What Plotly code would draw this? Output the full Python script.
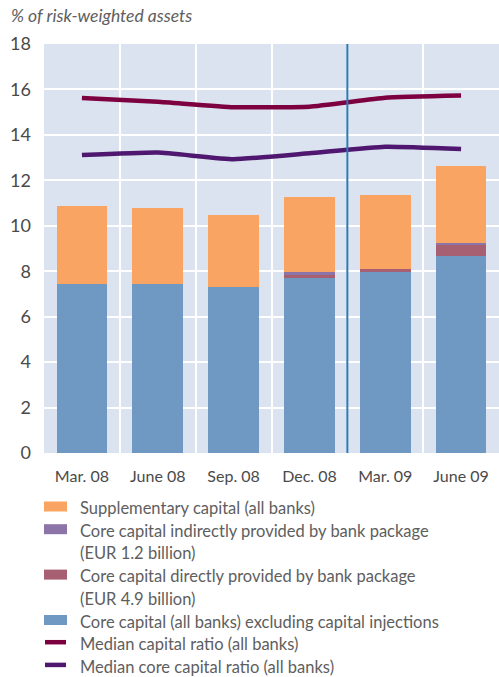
import plotly.graph_objects as go

# quarters on the x axis
quarters = ['Mar. 08', 'June 08', 'Sep. 08', 'Dec. 08', 'Mar. 09', 'June 09']

# stacked bar components, % of risk-weighted assets
core_excl = [7.43, 7.43, 7.30, 7.70, 7.96, 8.66]
core_direct = [0.0, 0.0, 0.0, 0.13, 0.12, 0.49]
core_indirect = [0.0, 0.0, 0.0, 0.13, 0.0, 0.09]
supplementary = [3.44, 3.35, 3.16, 3.31, 3.26, 3.39]

# median ratios
median_capital = [15.62, 15.46, 15.22, 15.24, 15.63, 15.73]
median_core = [13.11, 13.22, 12.93, 13.19, 13.48, 13.38]

y_ticks = [0, 2, 4, 6, 8, 10, 12, 14, 16, 18]

legend_labels = [
    'Supplementary capital (all banks)',
    'Core capital indirectly provided by bank package<br>(EUR 1.2 billion)',
    'Core capital directly provided by bank package<br>(EUR 4.9 billion)',
    'Core capital (all banks) excluding capital injections',
    'Median capital ratio (all banks)',
    'Median core capital ratio (all banks)',
]

C_SUPP = '#F9A462'
C_IND = '#8C74A8'
C_DIR = '#A75F72'
C_CORE = '#6F99C2'
C_CAP = '#7D0040'
C_CORELINE = '#4F1770'
FONT = 'Lato'

W, H = 499, 677
M_L, M_R, M_T, M_B = 44, 0, 44, 224
PLOT_W = W - M_L - M_R
PLOT_H = H - M_T - M_B


def px_x(px):
    return (px - M_L) / PLOT_W


def px_y(py):
    return (H - M_B - py) / PLOT_H


fig = go.Figure()
fig.add_trace(go.Bar(x=quarters, y=core_excl, marker_color=C_CORE, marker_line_width=0, showlegend=False))
fig.add_trace(go.Bar(x=quarters, y=core_direct, marker_color=C_DIR, marker_line_width=0, showlegend=False))
fig.add_trace(go.Bar(x=quarters, y=core_indirect, marker_color=C_IND, marker_line_width=0, showlegend=False))
fig.add_trace(go.Bar(x=quarters, y=supplementary, marker_color=C_SUPP, marker_line_width=0, showlegend=False))
fig.add_trace(go.Scatter(x=quarters, y=median_capital, mode='lines', showlegend=False,
                         line=dict(color=C_CAP, width=4.5, shape='spline', smoothing=0.4)))
fig.add_trace(go.Scatter(x=quarters, y=median_core, mode='lines', showlegend=False,
                         line=dict(color=C_CORELINE, width=4.5, shape='spline', smoothing=0.4)))

# blue separator between 2008 and 2009
fig.add_shape(type='line', xref='x', yref='paper', x0=3.5, x1=3.5, y0=0, y1=1,
              line=dict(color='#2C79B4', width=2))

# hand-drawn legend below the chart
swatches = [('rect', C_SUPP), ('rect', C_IND), ('rect', C_DIR), ('rect', C_CORE),
            ('line', C_CAP), ('line', C_CORELINE)]
line_no = 0
for (kind, col), label in zip(swatches, legend_labels):
    y0 = 508 + 22.7 * line_no
    if kind == 'rect':
        fig.add_shape(type='rect', xref='paper', yref='paper',
                      x0=px_x(44), x1=px_x(67), y0=px_y(y0 - 6.5), y1=px_y(y0 + 3.5),
                      fillcolor=col, line_width=0)
    else:
        fig.add_shape(type='line', xref='paper', yref='paper',
                      x0=px_x(45), x1=px_x(66), y0=px_y(y0 - 2), y1=px_y(y0 - 2),
                      line=dict(color=col, width=4.5))
    for part in label.split('<br>'):
        fig.add_annotation(text=part, xref='paper', yref='paper', x=px_x(78), y=px_y(508 + 22.7 * line_no),
                           xanchor='left', yanchor='middle', showarrow=False,
                           font=dict(family=FONT, size=16.5, color='#5e5e5e'))
        line_no += 1

fig.add_annotation(text='<i>% of risk-weighted assets</i>', xref='paper', yref='paper',
                   x=px_x(9), y=px_y(16), xanchor='left', yanchor='middle', showarrow=False,
                   font=dict(family=FONT, size=17.5, color='#5e5e5e'))

fig.update_layout(
    width=W, height=H, autosize=False,
    margin=dict(l=M_L, r=M_R, t=M_T, b=M_B),
    barmode='stack', bargap=0.33,
    plot_bgcolor='#DAE3EF', paper_bgcolor='white',
    font=dict(family=FONT, size=16, color='#4a4a4a'),
)
fig.update_xaxes(type='category', showgrid=True, gridcolor='white', gridwidth=2, tickson='boundaries',
                 ticks='', showline=False, zeroline=False, ticklabelstandoff=12,
                 tickfont=dict(family=FONT, size=16, color='#4a4a4a'))
fig.update_yaxes(range=[0, 18], tickvals=y_ticks, showgrid=True, gridcolor='white', gridwidth=2,
                 zeroline=False, showline=False, ticks='', ticklabelstandoff=12,
                 tickfont=dict(family=FONT, size=18, color='#4a4a4a'))

# drop the default body margin so the figure sits flush in the window
fig.write_html('out.html', config={'displayModeBar': False},
               post_script="document.body.style.margin='0';")
